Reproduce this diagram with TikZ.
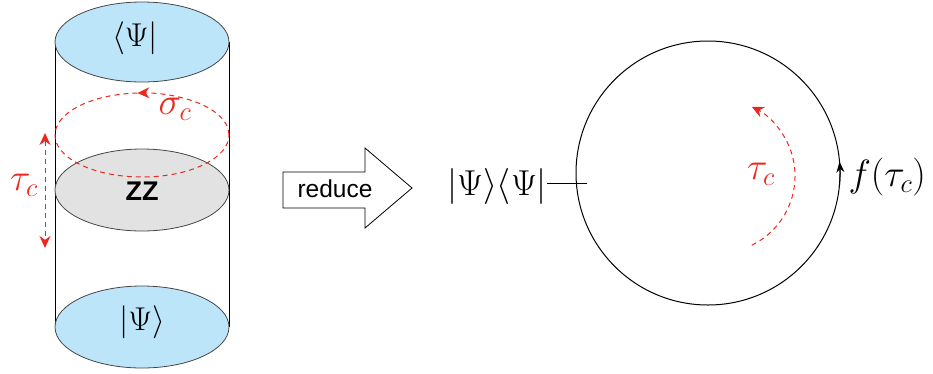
\documentclass[tikz,border=0pt]{standalone}
\usepackage{fix-cm}
\usepackage{fontspec}
\newfontfamily\sfont{Liberation Sans}
\usetikzlibrary{arrows.meta}
\definecolor{capblue}{RGB}{189,229,250}
\definecolor{capgray}{RGB}{226,226,226}
\definecolor{edge}{RGB}{70,70,70}
\definecolor{myred}{RGB}{235,40,30}
\begin{document}
\begin{tikzpicture}[x=1pt,y=-1pt,
  disc/.style={draw=edge,line width=0.8pt},
  rdash/.style={myred,dash pattern=on 5pt off 4pt,line width=1pt},
  rtip/.style={-{Stealth[length=12pt,width=11pt]}},
  mA/.style={font=\fontsize{33}{38}\selectfont},
  mB/.style={font=\fontsize{36}{42}\selectfont},
  mC/.style={font=\fontsize{38}{44}\selectfont},
  sflabel/.style={font=\sfont\fontsize{24.5}{28}\selectfont}]
\useasboundingbox (0,0) rectangle (933,373);
% cylinder
\draw[line width=1pt] (55,42) -- (55,327) (229,42) -- (229,327);
\draw[disc,fill=capblue] (142,42) ellipse [x radius=87,y radius=40];
\draw[disc,fill=capgray] (142,190) ellipse [x radius=87,y radius=41];
\draw[disc,fill=capblue] (142,327) ellipse [x radius=87,y radius=41];
\draw[rdash] (142,135) ++(-93:87 and 42) arc[start angle=-93,end angle=-360,x radius=87,y radius=42];
\draw[rdash,rtip] (229,135) arc[start angle=0,end angle=-93,x radius=87,y radius=42];
\draw[rdash,{Stealth[length=12pt,width=11pt]}-{Stealth[length=12pt,width=11pt]}] (45,133) -- (45,248);
\node[mA] (bra) at (135,38) {$\langle\Psi|$};
\node[font=\sfont\bfseries\fontsize{27}{30}\selectfont] (zz) at (142,191) {ZZ};
\node[mA] (ket) at (142,322) {$|\Psi\rangle$};
\node[mC,text=myred] (sig) at (175,109) {$\sigma_c$};
\node[mC,text=myred] (tau1) at (24,185) {$\tau_c$};
% reduce arrow
\draw[line width=0.8pt] (283,172) -- (365,172) -- (365,148) -- (412,188) -- (365,228) -- (365,208) -- (283,208) -- cycle;
\node[sflabel] (red) at (335,189) {reduce};
% circle
\node[circle,draw,line width=1pt,minimum size=264pt,inner sep=0pt] (C) at (708,173) {};
\node[mB,inner sep=0pt] (lbl) at (497,186) {$|\Psi\rangle\langle\Psi|$};
\coordinate (t) at (587,183);
\draw[line width=0.8pt] (lbl.east |- t) -- (t);
\draw[line width=1pt,-{Stealth[length=11pt,width=8pt]}] (C.center) ++(6:132) arc[start angle=6,end angle=-5,radius=132];
\node[mC,anchor=west] (f) at (845,177) {$f(\tau_c)$};
\draw[rdash,rtip] (718,176) ++(64:77) arc[start angle=64,end angle=-64,radius=77];
\node[mC,text=myred] (tau2) at (761,174) {$\tau_c$};
\end{tikzpicture}
\end{document}
